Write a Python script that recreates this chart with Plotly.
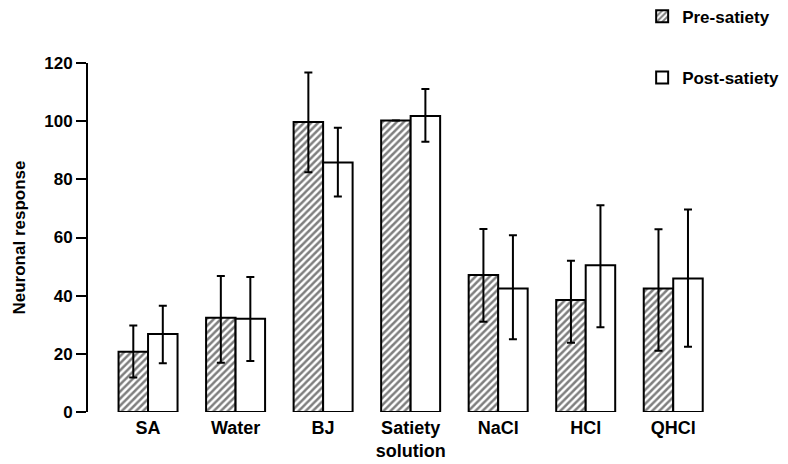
import plotly.graph_objects as go

categories = ["SA", "Water", "BJ", "Satiety<br>solution", "NaCl", "HCl", "QHCl"]
pre_values = [20.7, 32.4, 99.7, 100.2, 47.1, 38.5, 42.5]
pre_err_plus = [9.0, 14.4, 17.0, 0.0, 15.8, 13.5, 20.3]
pre_err_minus = [8.8, 15.5, 17.3, 0.0, 16.1, 14.7, 21.4]
post_values = [26.8, 32.1, 85.8, 101.8, 42.5, 50.5, 45.9]
post_err_plus = [9.7, 14.3, 11.9, 9.3, 18.3, 20.6, 23.7]
post_err_minus = [10.0, 14.6, 11.7, 8.9, 17.5, 21.4, 23.5]
y_ticks = [0, 20, 40, 60, 80, 100, 120]

FONT = "Liberation Sans, Arial, sans-serif"

fig = go.Figure()
fig.add_trace(go.Bar(
    x=categories, y=pre_values, name="<b>Pre-satiety</b>", legendgroup="pre",
    marker=dict(color="white", line=dict(color="black", width=2),
                pattern=dict(shape="/", fgcolor="black", bgcolor="white",
                             size=5, solidity=0.5)),
    error_y=dict(type="data", symmetric=False, array=pre_err_plus,
                 arrayminus=pre_err_minus, color="black", thickness=2, width=4),
))
fig.add_trace(go.Bar(
    x=categories, y=post_values, name="<b>Post-satiety</b>", legendgroup="post",
    marker=dict(color="white", line=dict(color="black", width=2)),
    error_y=dict(type="data", symmetric=False, array=post_err_plus,
                 arrayminus=post_err_minus, color="black", thickness=2, width=4),
))

# page body has an 8px margin, so figure is 780x456 offset by 8px
fig.update_layout(
    width=780, height=456,
    margin=dict(l=80, r=71, t=55, b=52, autoexpand=False),
    paper_bgcolor="white", plot_bgcolor="white",
    barmode="group", bargap=0.326, bargroupgap=0,
    font=dict(family=FONT, size=17, color="black"),
    legend=dict(x=0.881, y=1.184, xanchor="left", yanchor="top",
                xref="paper", yref="paper",
                font=dict(size=17), tracegroupgap=36,
                bgcolor="rgba(0,0,0,0)"),
    xaxis=dict(range=[-0.686, 6.5], showline=False, showgrid=False,
               zeroline=False, ticks="", tickfont=dict(size=18),
               ticklabelstandoff=3,
               tickvals=categories,
               ticktext=["<b>" + c.replace("<br>", "</b><br><b>") + "</b>" for c in categories]),
    yaxis=dict(range=[0, 120], tickvals=y_ticks,
               ticktext=["<b>%d</b>" % v for v in y_ticks],
               showline=True, linecolor="black", linewidth=2, ticks="outside",
               ticklen=10, tickwidth=2, tickcolor="black",
               showgrid=False, zeroline=False, tickfont=dict(size=17),
               title=dict(text="<b>Neuronal response</b>", font=dict(size=17),
                          standoff=14)),
)

fig.write_html("out.html")
